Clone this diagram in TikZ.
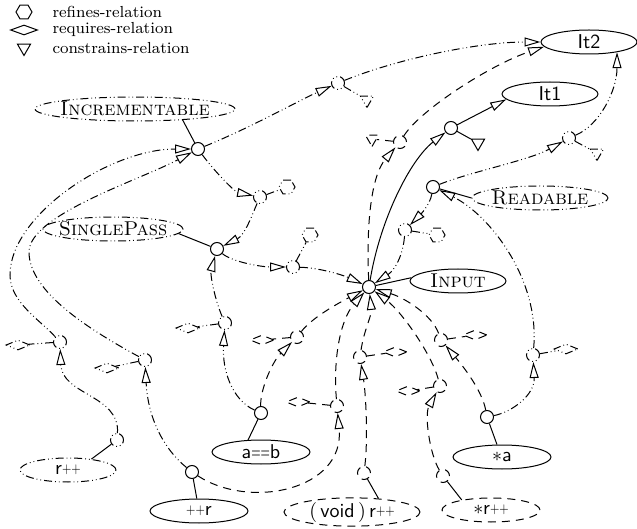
\documentclass[tikz,border=0pt]{standalone}
\usepackage{graphicx}
\usetikzlibrary{arrows.meta,shapes.geometric}
% narrow operator glyphs used in the type labels
\newcommand{\pl}{\raisebox{0.6pt}{\scalebox{0.6}[0.75]{+}}}
\newcommand{\eqs}{\scalebox{0.6}[1]{=}}
\tikzset{
  ddot/.style={dash pattern=on 4pt off 1.5pt on 0.4pt off 1.5pt on 0.4pt off 1.5pt},
  dsh/.style={dash pattern=on 4pt off 3pt},
  concept/.style={ellipse, draw, inner sep=0pt, minimum height=12pt, minimum width=#1},
  knot/.style={circle, draw, inner sep=0pt, minimum size=6.5pt},
  hexsym/.style={regular polygon, regular polygon sides=6, draw, inner sep=0pt, minimum size=8pt},
  diasym/.style={diamond, draw, inner sep=0pt, minimum width=12pt, minimum height=5pt},
  trisym/.style={regular polygon, regular polygon sides=3, shape border rotate=180, draw, inner sep=0pt, minimum size=7.5pt},
  tip/.style={-{Triangle[open,length=8pt,width=4.5pt]}},
  legtext/.style={anchor=west, inner sep=0pt, font=\footnotesize},
}
\begin{document}
\begin{tikzpicture}[x=0.5pt,y=-0.5pt,line width=0.5pt]
\useasboundingbox (0,0) rectangle (637,529);

% legend
\node[hexsym] (lh) at (24,12) {};
\node[legtext] (lht) at (52,12) {refines-relation};
\node[diasym, minimum width=13.5pt] (ld) at (24,30) {};
\node[legtext] (ldt) at (52,30) {requires-relation};
\node[trisym] (lt) at (24,48) {};
\node[legtext] (ltt) at (52,48) {constrains-relation};

% concepts and types
\node[concept=48pt] (It2) at (589,42) {\makebox[0pt]{\sffamily It2}};
\node[concept=48pt] (It1) at (550,94) {\makebox[0pt]{\sffamily It1}};
\node[concept=100pt, ddot] (Inc) at (135,109) {\makebox[0pt]{\textsc{Incrementable}}};
\node[concept=70pt, ddot] (SP) at (113,229) {\makebox[0pt]{\textsc{SinglePass}}};
\node[concept=68pt, ddot] (Rd) at (540,198) {\makebox[0pt]{\textsc{Readable}}};
\node[concept=48pt] (In) at (458,281) {\makebox[0pt]{\textsc{Input}}};
\node[concept=48pt, ddot] (rpp) at (68,470) {\makebox[0pt]{\sffamily r\pl\pl}};
\node[concept=49pt] (ppr) at (199,511) {\makebox[0pt]{\sffamily \pl\pl r}};
\node[concept=49pt] (aeb) at (261,452) {\makebox[0pt]{\sffamily a\eqs\eqs b}};
\node[concept=68pt, minimum height=14pt, dsh] (vrpp) at (352,512) {\makebox[0pt]{\sffamily $($\,void\,$)$\,r\pl\pl}};
\node[concept=49pt] (sa) at (502,457) {\makebox[0pt]{\sffamily $\ast$a}};
\node[concept=49pt, dsh] (srpp) at (491,510) {\makebox[0pt]{\sffamily $\ast$r\pl\pl}};

% concept knots
\node[knot] (cinc) at (198,149) {};
\node[knot] (csp) at (217,249) {};
\node[knot] (crd) at (433,187) {};
\node[knot] (cin) at (369,287) {};
\node[knot, ddot] (crpp) at (117,440) {};
\node[knot] (cppr) at (192,472) {};
\node[knot] (caeb) at (261,413) {};
\node[knot, dsh] (cvrpp) at (364,473) {};
\node[knot] (csa) at (487,417) {};
\node[knot, dsh] (csrpp) at (443,476) {};

\draw (cinc) -- (Inc.-13);
\draw (csp) -- (SP.-4);
\draw (crd) -- (Rd.west);
\draw (cin) -- (In.176);
\draw (crpp) -- (rpp.25);
\draw (cppr) -- (ppr.100);
\draw (caeb) -- (aeb.137);
\draw (cvrpp) -- (vrpp.27);
\draw (csa) -- (sa.112);
\draw (csrpp) -- (srpp.161);

% relation junctions
\node[knot, ddot] (j1) at (338,83) {};
\node[knot, ddot] (j2) at (260,197) {};
\node[knot, ddot] (j3) at (293,267) {};
\node[knot, ddot] (j4) at (60,342) {};
\node[knot, ddot] (j5) at (145,360) {};
\node[knot, dsh] (j6) at (337,406) {};
\node[knot, ddot] (j7) at (225,323) {};
\node[knot, dsh] (j8) at (297,337) {};
\node[knot, dsh] (j9) at (360,357) {};
\node[knot, dsh] (j10) at (440,386) {};
\node[knot, dsh] (j11) at (441,340) {};
\node[knot, ddot] (j12) at (533,355) {};
\node[knot, ddot] (j13) at (405,230) {};
\node[knot, ddot] (j14) at (569,138) {};
\node[knot, dsh] (j15) at (400,142) {};
\node[knot] (jit1) at (451,128) {};

% relation kinds
\node[trisym, ddot] (t1) at (367,100) {};
\node[hexsym, ddot] (h2) at (287,187) {};
\node[hexsym, ddot] (h3) at (310,235) {};
\node[diasym, ddot] (d4) at (18,345) {};
\node[diasym, ddot] (d5) at (107,368) {};
\node[diasym, dsh] (d6) at (298,402) {};
\node[diasym, ddot] (d7) at (188,328) {};
\node[diasym, dsh] (d8) at (262,340) {};
\node[diasym, dsh] (d9) at (395,352) {};
\node[diasym, dsh] (d10) at (408,391) {};
\node[diasym, dsh] (d11) at (475,335) {};
\node[diasym, ddot] (d12) at (566,349) {};
\node[hexsym, ddot] (h13) at (437,235) {};
\node[trisym, ddot] (t14) at (597,153) {};
\node[trisym, dsh] (t15) at (372,139) {};
\node[trisym] (tit1) at (478,143) {};

\draw[ddot] (j1) -- (t1);
\draw[ddot] (j2) -- (h2);
\draw[ddot] (j3) -- (h3);
\draw[ddot] (j4) -- (d4);
\draw[ddot] (j5) -- (d5);
\draw[dsh] (j6) -- (d6);
\draw[ddot] (j7) -- (d7);
\draw[dsh] (j8) -- (d8);
\draw[dsh] (j9) -- (d9);
\draw[dsh] (j10) -- (d10);
\draw[dsh] (j11) -- (d11);
\draw[ddot] (j12) -- (d12);
\draw[ddot] (j13) -- (h13);
\draw[ddot] (j14) -- (t14);
\draw[dsh] (j15) -- (t15);
\draw (jit1) -- (tit1);

\coordinate (m4) at (10,275);
\coordinate (m5) at (29,252);

% relations
\draw[ddot,tip] (cinc) .. controls (250,128) and (300,100) .. (j1);
\draw[ddot,tip] (j1) .. controls (400,58) and (480,42) .. (It2.west);

\draw[ddot,tip] (cinc) .. controls (215,172) and (235,192) .. (j2);
\draw[ddot,tip] (j2) .. controls (252,215) and (245,235) .. (csp);

\draw[ddot,tip] (csp) .. controls (232,262) and (262,267) .. (j3);
\draw[ddot,tip] (j3) .. controls (322,268) and (345,276) .. (cin);

\draw[ddot,tip] (crpp) .. controls (120,395) and (62,395) .. (j4);
\draw[ddot,tip] (j4) .. controls (40,320) and (10,302) .. (m4) .. controls (10,215) and (110,149) .. (cinc);

\draw[ddot,tip] (cppr) .. controls (165,450) and (148,420) .. (j5);
\draw[ddot,tip] (j5) .. controls (90,330) and (29,292) .. (m5) .. controls (29,215) and (140,180) .. (cinc);

\draw[dsh,tip] (cppr) .. controls (250,510) and (345,490) .. (j6);
\draw[dsh,tip] (j6) .. controls (333,360) and (340,320) .. (cin);

\draw[ddot,tip] (caeb) .. controls (232,400) and (222,370) .. (j7);
\draw[ddot,tip] (j7) .. controls (215,300) and (210,275) .. (csp);

\draw[dsh,tip] (caeb) .. controls (260,390) and (272,362) .. (j8);
\draw[dsh,tip] (j8) .. controls (312,318) and (335,305) .. (cin);

\draw[dsh,tip] (cvrpp) .. controls (368,440) and (366,395) .. (j9);
\draw[dsh,tip] (j9) .. controls (364,330) and (372,315) .. (cin);

\draw[dsh,tip] (csrpp) .. controls (430,455) and (424,415) .. (j10);
\draw[dsh,tip] (j10) .. controls (432,355) and (402,312) .. (cin);

\draw[dsh,tip] (csa) .. controls (482,390) and (462,365) .. (j11);
\draw[dsh,tip] (j11) .. controls (432,315) and (405,298) .. (cin);

\draw[ddot,tip] (csa) .. controls (512,412) and (535,395) .. (j12);
\draw[ddot,tip] (j12) .. controls (540,280) and (490,215) .. (crd);

\draw[ddot,tip] (crd) .. controls (430,205) and (420,215) .. (j13);
\draw[ddot,tip] (j13) .. controls (403,255) and (395,270) .. (cin);

\draw[ddot,tip] (crd) .. controls (470,172) and (530,160) .. (j14);
\draw[ddot,tip] (j14) .. controls (600,125) and (617,90) .. (It2.-20);

\draw[dsh,tip] (cin) .. controls (366,220) and (372,175) .. (j15);
\draw[dsh,tip] (j15) .. controls (420,110) and (490,65) .. (It2.186);

\draw[tip] (cin) .. controls (380,220) and (410,160) .. (jit1);
\draw[tip] (jit1) -- (It1.187);
\end{tikzpicture}
\end{document}
